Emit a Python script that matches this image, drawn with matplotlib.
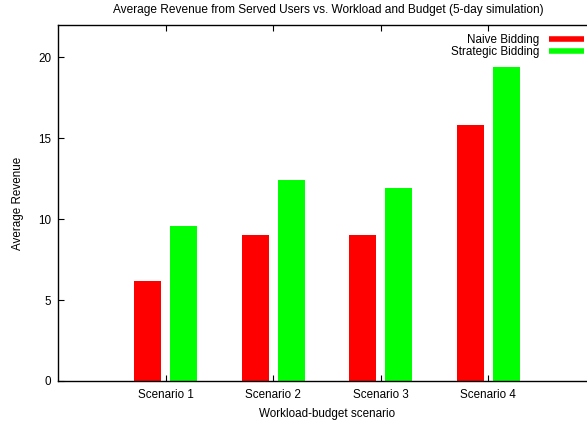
import numpy as np
import matplotlib
matplotlib.use('Agg')
import matplotlib.pyplot as plt

plt.rcParams['font.family'] = ['Liberation Sans', 'DejaVu Sans']

# values
scenarios = ['Scenario 1', 'Scenario 2', 'Scenario 3', 'Scenario 4']
naive = [6.2, 9.0, 9.0, 15.8]
strategic = [9.6, 12.4, 11.9, 19.4]

fs = 8.4

fig = plt.figure(figsize=(5.87, 4.23), dpi=100)
ax = fig.add_axes([0.0993, 0.0993, 0.9155, 0.8416])

x = np.arange(len(scenarios))
w = 0.25
ax.bar(x - 0.167, naive, w, color='#ff0000', label='Naive Bidding')
ax.bar(x + 0.167, strategic, w, color='#00ff00', label='Strategic Bidding')

ax.set_xlim(-1, 4)
ax.set_ylim(0, 22)
ax.set_xticks(x)
ax.set_xticklabels(scenarios)
ax.set_yticks([0, 5, 10, 15, 20])

ax.tick_params(direction='in', length=4, width=0.8, labelsize=fs, colors='black',
               top=True, right=True)
ax.tick_params(axis='x', pad=6)
ax.tick_params(axis='y', pad=5)
for s in ax.spines.values():
    s.set_linewidth(1.0)

ax.set_xlabel('Workload-budget scenario', fontsize=fs, labelpad=5)
ax.set_ylabel('Average Revenue', fontsize=fs, labelpad=10)
fig.text(0.56, 0.976, 'Average Revenue from Served Users vs. Workload and Budget (5-day simulation)',
         ha='center', va='center', fontsize=8.6)

# gnuplot-style key: text right aligned, swatch on the right
handles = [plt.Line2D([], [], color='#ff0000', lw=4, solid_capstyle='butt'),
           plt.Line2D([], [], color='#00ff00', lw=4, solid_capstyle='butt')]
leg = ax.legend(handles, ['Naive Bidding', 'Strategic Bidding'], loc='upper right',
                bbox_to_anchor=(0.994, 1.0), frameon=False, fontsize=fs,
                markerfirst=False, handlelength=3.0, handletextpad=0.78,
                labelspacing=0.0, borderaxespad=0.35)
for t in leg.get_texts():
    t.set_ha('right')

fig.savefig('out.png', dpi=100)
